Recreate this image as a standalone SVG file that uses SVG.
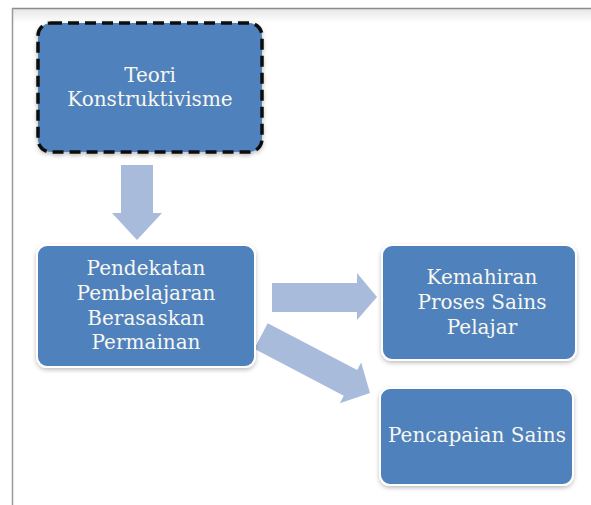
<svg xmlns="http://www.w3.org/2000/svg" width="591" height="505" viewBox="0 0 591 505">
<style>
.box{fill:#4f81bd;stroke:#ffffff;stroke-width:2}
.lbl{font-family:"DejaVu Serif","Liberation Serif",serif;font-size:20px;fill:#f7f7f0;text-anchor:middle;dominant-baseline:central}
.arr{fill:#a8bbda}
</style>
<defs>
<filter id="sh" x="-10%" y="-10%" width="120%" height="125%">
<feDropShadow dx="0" dy="2" stdDeviation="2" flood-color="#000" flood-opacity="0.25"/>
</filter>
<linearGradient id="topg" x1="0" y1="0" x2="0" y2="1">
<stop offset="0" stop-color="#e6e6e6"/>
<stop offset="1" stop-color="#ffffff"/>
</linearGradient>
</defs>
<rect width="591" height="505" fill="#ffffff"/>
<g id="frame">
<rect x="12" y="9" width="579" height="14" fill="url(#topg)"/>
<line x1="12" y1="8.5" x2="591" y2="8.5" stroke="#8c8c8c" stroke-width="1.5"/>
<line x1="12.5" y1="8" x2="12.5" y2="505" stroke="#9a9a9a" stroke-width="1.5"/>
</g>
<g id="connectors">
<path class="arr" d="M121,165 H153 V213 H162 L137,240 L112,213 H121 Z"/>
<path class="arr" d="M272,283 H357 V273 L377,297 L357,320 V312 H272 Z"/>
<path class="arr" transform="translate(261,336) rotate(27.6)" d="M0,-14.5 H101 V-23 L123,0 L101,23 V14.5 H0 Z"/>
</g>
<g id="teori">
<rect x="38" y="23" width="224" height="129" rx="13" fill="#4f81bd" stroke="#111" stroke-width="3.5" stroke-dasharray="11 6" filter="url(#sh)"/>
<text class="lbl" x="150" y="75">Teori</text>
<text class="lbl" x="150" y="99">Konstruktivisme</text>
</g>
<g id="pendekatan">
<rect class="box" x="37" y="245" width="218" height="122" rx="10" filter="url(#sh)"/>
<text class="lbl" x="146" y="268">Pendekatan</text>
<text class="lbl" x="146" y="293">Pembelajaran</text>
<text class="lbl" x="146" y="318">Berasaskan</text>
<text class="lbl" x="146" y="342">Permainan</text>
</g>
<g id="kemahiran">
<rect class="box" x="382" y="245" width="194" height="115" rx="10" filter="url(#sh)"/>
<text class="lbl" x="482" y="277">Kemahiran</text>
<text class="lbl" x="482" y="302">Proses Sains</text>
<text class="lbl" x="482" y="327">Pelajar</text>
</g>
<g id="pencapaian">
<rect class="box" x="380" y="388" width="193" height="97" rx="10" filter="url(#sh)"/>
<text class="lbl" x="477" y="435">Pencapaian Sains</text>
</g>
</svg>
